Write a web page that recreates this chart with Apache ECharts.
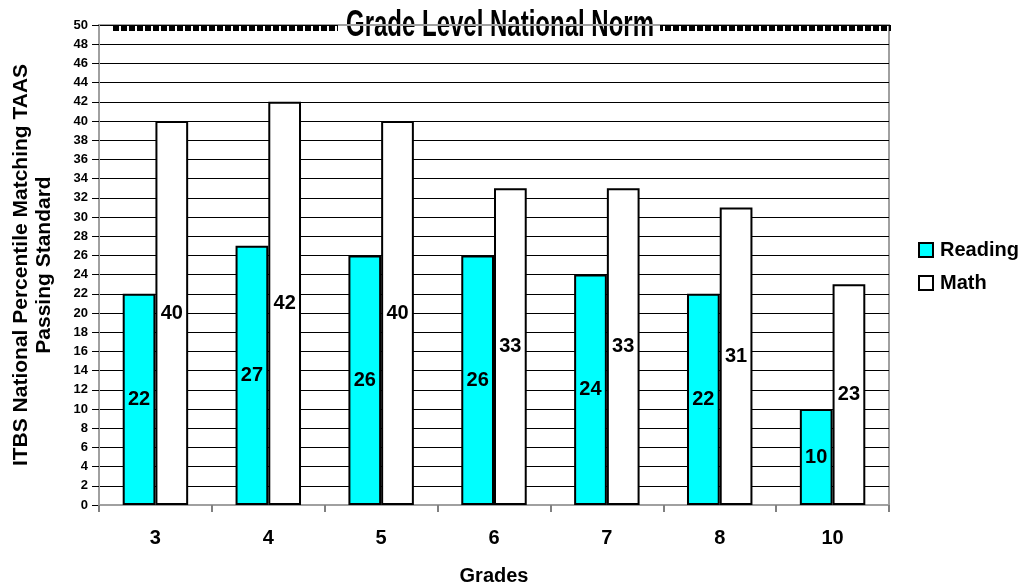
<!DOCTYPE html>
<html>
<head>
<meta charset="utf-8">
<script src="https://cdn.jsdelivr.net/npm/echarts@6/dist/echarts.min.js"></script>
<style>
  html, body { margin: 0; padding: 0; background: #fff; overflow: hidden; }
  #chart { width: 1024px; height: 587px; }
</style>
</head>
<body>
<div id="chart"></div>
<script>
// Grades tested and the ITBS percentile that matches the TAAS passing standard
const grades = ['3', '4', '5', '6', '7', '8', '10'];
const reading = [22, 27, 26, 26, 24, 22, 10];
const math = [40, 42, 40, 33, 33, 31, 23];
const yTicks = { min: 0, max: 50, interval: 2 };
const normValue = 49.7; // national norm line, drawn just under the 50 gridline

const chart = echarts.init(document.getElementById('chart'), null, { renderer: 'canvas' });

const FONT = 'Liberation Sans, Arial, sans-serif';
const labelStyle = {
  show: true,
  position: 'inside',
  color: '#000',
  fontFamily: FONT,
  fontWeight: 'bold',
  fontSize: 20
};

chart.setOption({
  backgroundColor: '#fff',
  animation: false,
  grid: {
    left: 99, top: 25, width: 790, height: 480,
    outerBoundsMode: 'none',
    containLabel: false,
    show: true, borderColor: '#a0a0a0', borderWidth: 2, backgroundColor: 'transparent'
  },
  legend: {
    orient: 'vertical',
    left: 913, top: 235,
    itemWidth: 14, itemHeight: 14, itemGap: 13,
    icon: 'rect',
    textStyle: { fontFamily: FONT, fontWeight: 'bold', fontSize: 20, color: '#000', padding: [0, 0, 0, 2] },
    data: ['Reading', 'Math']
  },
  xAxis: {
    type: 'category',
    data: grades,
    name: 'Grades',
    nameLocation: 'middle',
    nameGap: 61,
    nameTextStyle: { fontFamily: FONT, fontWeight: 'bold', fontSize: 20, color: '#000' },
    axisLine: { lineStyle: { color: '#a0a0a0', width: 2 } },
    axisTick: { show: true, length: 7, lineStyle: { color: '#808080', width: 2 } },
    axisLabel: { margin: 23, fontFamily: FONT, fontWeight: 'bold', fontSize: 20, color: '#000' }
  },
  yAxis: {
    type: 'value',
    min: yTicks.min, max: yTicks.max, interval: yTicks.interval,
    name: 'ITBS National Percentile Matching TAAS\nPassing Standard',
    nameLocation: 'middle',
    nameGap: 43,
    nameTextStyle: { fontFamily: FONT, fontWeight: 'bold', fontSize: 21, color: '#000', lineHeight: 23 },
    axisLine: { show: true, lineStyle: { color: '#a0a0a0', width: 2 } },
    axisTick: { show: true, length: 7, lineStyle: { color: '#000' } },
    axisLabel: { margin: 11, fontFamily: FONT, fontWeight: 'bold', fontSize: 13, color: '#000' },
    splitLine: { lineStyle: { color: '#000', width: 1 } }
  },
  series: [
    {
      name: 'Reading',
      type: 'bar',
      data: reading,
      barWidth: '29%',
      barGap: '0%',
      itemStyle: { color: '#00ffff', borderColor: '#000', borderWidth: 2 },
      label: labelStyle,
      markLine: {
        silent: true,
        symbol: 'none',
        label: { show: false },
        lineStyle: { color: '#000', width: 6, type: [6, 2], opacity: 1 },
        data: [[{ coord: [-0.12, normValue], x: 113 }, { coord: [6.5, normValue], x: 891 }]]
      }
    },
    {
      name: 'Math',
      type: 'bar',
      data: math,
      barWidth: '29%',
      itemStyle: { color: '#ffffff', borderColor: '#000', borderWidth: 2 },
      label: labelStyle
    }
  ],
  graphic: [
    // white box that breaks the norm line behind the caption
    { type: 'rect', left: 338, top: 12, z: 100, shape: { width: 322, height: 30 }, style: { fill: '#fff' } },
    {
      type: 'text', z: 101,
      x: 500, y: 25.5, scaleX: 1.0, scaleY: 1.55,
      style: {
        text: 'Grade Level National Norm',
        font: 'bold 24px "Liberation Sans", Arial, sans-serif',
        fill: '#000',
        align: 'center',
        verticalAlign: 'middle'
      }
    },
    // plot border continues across the caption
    { type: 'line', z: 102, shape: { x1: 338, y1: 25, x2: 660, y2: 25 }, style: { stroke: '#a0a0a0', lineWidth: 2 } }
  ]
});
</script>
</body>
</html>
